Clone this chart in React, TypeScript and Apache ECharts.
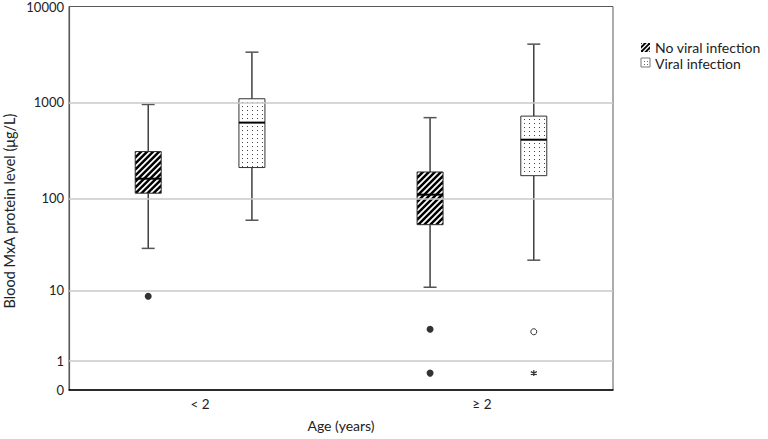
import React, { useEffect, useRef } from "react";
import * as echarts from "echarts";

const categories = ["< 2", "≥ 2"];
const yTickValues = [0, 1, 10, 100, 1000, 10000];
const gridValues = [1, 10, 100, 1000];
// [min, q1, median, q3, max]
const noViralStats = [
  [29, 112, 159, 306, 950],
  [10.8, 52, 108, 187, 692],
];
const viralStats = [
  [58, 208, 614, 1090, 3340],
  [21.6, 171, 407, 718, 4050],
];
// [category index, value]
const noViralOutliers = [
  [0, 8.5],
  [1, 3.3],
  [1, 0.5],
];
const viralOutliers = [[1, 3.05]];
const viralExtremes = [[1, 0.5]];

const FONT = "Lato";
const OFFSET = 0.184;
const T = (v: number) => Math.log10(v + 1);

function hatchLines(x0: number, y0: number, x1: number, y1: number, period: number, color: string, width: number) {
  const out: any[] = [];
  for (let c = x0 + y0 + period / 2; c < x1 + y1; c += period) {
    const xa = Math.max(x0, c - y1);
    const xb = Math.min(x1, c - y0);
    if (xb <= xa) continue;
    out.push({
      type: "line",
      shape: { x1: xa, y1: c - xa, x2: xb, y2: c - xb },
      style: { stroke: color, lineWidth: width },
      silent: true,
    });
  }
  return out;
}

function dotGrid(x0: number, y0: number, x1: number, y1: number, dx: number, dy: number) {
  const out: any[] = [];
  for (let x = x0 + 3.5; x < x1 - 1; x += dx) {
    for (let y = y0 + 3; y < y1 - 1; y += dy) {
      out.push({
        type: "rect",
        shape: { x: Math.round(x), y: Math.round(y), width: 1, height: 1 },
        style: { fill: "#444" },
        silent: true,
      });
    }
  }
  return out;
}

function makeRender(offset: number, kind: "hatch" | "dots") {
  return (params: any, api: any) => {
    const cat = api.value(0);
    const cx = api.coord([cat + offset, 0])[0];
    const y = (k: number) => api.coord([cat + offset, api.value(k)])[1];
    const yMin = y(1), yQ1 = y(2), yMed = y(3), yQ3 = y(4), yMax = y(5);
    const half = 13;
    const cap = 6.5;
    const x0 = cx - half, x1 = cx + half;
    const children: any[] = [];
    children.push({ type: "line", shape: { x1: cx, y1: yMax, x2: cx, y2: yQ3 }, style: { stroke: "#222", lineWidth: 1.3 } });
    children.push({ type: "line", shape: { x1: cx, y1: yQ1, x2: cx, y2: yMin }, style: { stroke: "#222", lineWidth: 1.3 } });
    children.push({ type: "line", shape: { x1: cx - cap, y1: yMax, x2: cx + cap, y2: yMax }, style: { stroke: "#555", lineWidth: 1.5 } });
    children.push({ type: "line", shape: { x1: cx - cap, y1: yMin, x2: cx + cap, y2: yMin }, style: { stroke: "#555", lineWidth: 1.5 } });
    if (kind === "hatch") {
      children.push({ type: "rect", shape: { x: x0, y: yQ3, width: x1 - x0, height: yQ1 - yQ3 }, style: { fill: "#000" } });
      children.push(...hatchLines(x0, yQ3, x1, yQ1, 6, "#fff", 1.8));
    } else {
      children.push({ type: "rect", shape: { x: x0, y: yQ3, width: x1 - x0, height: yQ1 - yQ3 }, style: { fill: "#fff" } });
      children.push(...dotGrid(x0, yQ3, x1, yQ1, 5, 4));
    }
    children.push({ type: "rect", shape: { x: x0, y: yQ3, width: x1 - x0, height: yQ1 - yQ3 }, style: { fill: "none", stroke: "#333", lineWidth: 1 } });
    children.push({ type: "line", shape: { x1: x0, y1: yMed, x2: x1, y2: yMed }, style: { stroke: "#000", lineWidth: 2 } });
    return { type: "group", children };
  };
}

export default function App() {
  const ref = useRef<HTMLDivElement>(null);
  useEffect(() => {
    if (!ref.current) return;
    const chart = echarts.init(ref.current, null, { renderer: "svg" });
    const yTicksT = yTickValues.map(T);
    const labelFor = (v: number) => {
      let best = 0;
      yTicksT.forEach((t, i) => {
        if (Math.abs(t - v) < Math.abs(yTicksT[best] - v)) best = i;
      });
      return String(yTickValues[best]);
    };
    const boxData = (stats: number[][]) =>
      stats.map((s, i) => [i, ...s.map(T)]);
    const legendIcon1: any[] = [
      { type: "rect", shape: { x: 641, y: 43, width: 9, height: 9 }, style: { fill: "#000" } },
      ...hatchLines(641, 43, 650, 52, 4.5, "#fff", 1.3),
    ];
    const legendIcon2: any[] = [
      { type: "rect", shape: { x: 641, y: 58, width: 9, height: 9 }, style: { fill: "#fff", stroke: "#777", lineWidth: 1 } },
      ...[644, 647].flatMap((x) => [61, 64].map((y) => ({ type: "rect", shape: { x, y, width: 1, height: 1 }, style: { fill: "#666" } }))),
    ];
    chart.setOption({
      animation: false,
      textStyle: { fontFamily: FONT },
      grid: { left: 69, top: 6, width: 544, height: 384, show: true, borderColor: "#595959", borderWidth: 1, backgroundColor: "transparent" },
      xAxis: {
        type: "value",
        min: -0.465,
        max: 1.465,
        axisLine: { show: true, onZero: false, lineStyle: { color: "#000", width: 1.5 } },
        axisTick: { show: false },
        splitLine: { show: false },
        axisLabel: {
          customValues: [0, 1],
          formatter: (v: number) => categories[Math.round(v)] ?? "",
          fontSize: 13.5,
          color: "#222",
          fontFamily: FONT,
          margin: 7,
        },
        name: "Age (years)",
        nameLocation: "middle",
        nameGap: 28,
        nameTextStyle: { fontSize: 14, color: "#222", fontFamily: FONT },
      },
      yAxis: {
        type: "value",
        min: 0,
        max: T(10000),
        axisLine: { show: true, onZero: false, lineStyle: { color: "#595959", width: 1.2 } },
        axisTick: { show: false },
        splitLine: { show: false },
        axisLabel: {
          customValues: yTicksT,
          formatter: (v: number) => labelFor(v),
          fontSize: 13,
          color: "#222",
          fontFamily: FONT,
          margin: 5,
        },
      },
      graphic: [
        {
          type: "text",
          x: 9,
          y: 211,
          rotation: Math.PI / 2,
          style: { text: "Blood MxA protein level (μg/L)", fontSize: 14.5, fill: "#222", fontFamily: FONT, align: "center", verticalAlign: "middle" },
        },
        ...legendIcon1,
        ...legendIcon2,
        { type: "text", x: 655, y: 47.5, style: { text: "No viral infection", fontSize: 14, lineHeight: 14, fill: "#222", fontFamily: FONT, verticalAlign: "middle" } },
        { type: "text", x: 655, y: 63, style: { text: "Viral infection", fontSize: 14, lineHeight: 14, fill: "#222", fontFamily: FONT, verticalAlign: "middle" } },
      ],
      series: [
        {
          type: "line",
          data: [],
          z: 1,
          markLine: {
            silent: true,
            symbol: ["none", "none"],
            label: { show: false },
            lineStyle: { color: "#c8c8c8", type: "solid", width: 1.5 },
            data: gridValues.map((v) => ({ yAxis: T(v) })),
          },
        },
        {
          type: "custom",
          name: "No viral infection",
          z: 3,
          data: boxData(noViralStats),
          encode: { x: 0, y: [1, 2, 3, 4, 5] },
          renderItem: makeRender(-OFFSET, "hatch"),
        },
        {
          type: "custom",
          name: "Viral infection",
          z: 3,
          data: boxData(viralStats),
          encode: { x: 0, y: [1, 2, 3, 4, 5] },
          renderItem: makeRender(OFFSET, "dots"),
        },
        {
          type: "scatter",
          z: 4,
          symbol: "circle",
          symbolSize: 7,
          itemStyle: { color: "#000" },
          data: noViralOutliers.map(([c, v]) => [c - OFFSET, T(v)]),
        },
        {
          type: "scatter",
          z: 4,
          symbol: "circle",
          symbolSize: 6,
          itemStyle: { color: "#fff", borderColor: "#000", borderWidth: 1 },
          data: viralOutliers.map(([c, v]) => [c + OFFSET, T(v)]),
        },
        {
          type: "scatter",
          z: 4,
          symbol: "path://M0,-5L0,5M-4.33,-2.5L4.33,2.5M-4.33,2.5L4.33,-2.5",
          symbolSize: 6,
          itemStyle: { color: "none", borderColor: "#000", borderWidth: 1.2 },
          data: viralExtremes.map(([c, v]) => [c + OFFSET, T(v)]),
        },
      ],
    });
    return () => chart.dispose();
  }, []);
  return <div ref={ref} style={{ width: 768, height: 439, position: "absolute", left: 0, top: 0 }} />;
}
